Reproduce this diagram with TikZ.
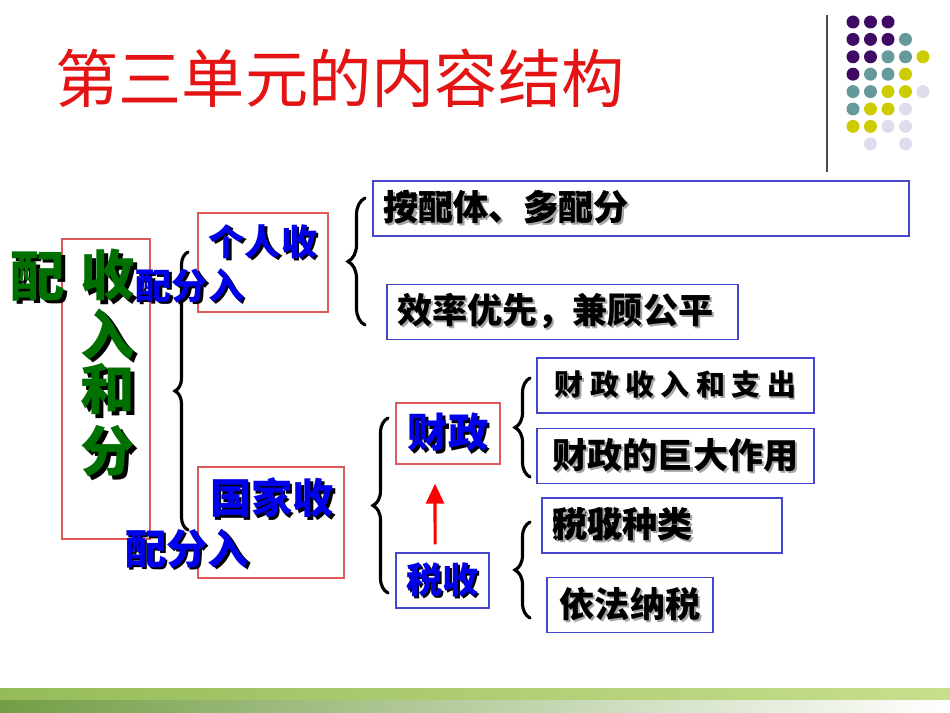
\documentclass[tikz,border=0pt]{standalone}
\usepackage{fontspec}
\setmainfont{Noto Sans CJK SC}
\usetikzlibrary{positioning,arrows.meta,decorations.pathreplacing}

\definecolor{slidered}{RGB}{228,20,20}
\definecolor{boxred}{RGB}{222,90,90}
\definecolor{boxblue}{RGB}{70,70,205}
\definecolor{textblue}{RGB}{0,0,235}
\definecolor{textgreen}{RGB}{0,112,0}
\definecolor{dotpurple}{RGB}{62,10,100}
\definecolor{dotteal}{RGB}{102,153,153}
\definecolor{dotyellow}{RGB}{204,204,0}
\definecolor{dotlilac}{RGB}{221,221,238}

% shadowed text: #1 shadow colour, #2 text
\newcommand{\shd}[2]{\makebox[0pt][l]{\kern0.06em\raisebox{-0.06em}{\color{#1}#2}}#2}
\newcommand{\fs}[1]{\fontsize{#1}{#1}\selectfont}

\begin{document}
\begin{tikzpicture}
    [x=0.02cm,y=-0.02cm,
     redbox/.style={rectangle,draw=boxred,line width=0.8pt,inner sep=0pt},
     bluebox/.style={rectangle,draw=boxblue,line width=0.8pt,inner sep=0pt},
     leaf/.style={bluebox,inner xsep=0.2cm,minimum height=1.1cm,font=\bfseries\fs{20pt},align=left},
     bigchar/.style={inner sep=0pt,text=textgreen,font=\bfseries\fs{31pt}},
     branch/.style={inner sep=0pt,text=textblue,font=\bfseries\fs{#1}},
     curly/.style={decorate,decoration={brace,amplitude=#1},line width=1.8pt,line cap=round},
     uparrow/.style={-{Triangle[length=0.4cm,width=0.36cm]},draw=red,line width=1.8pt}]

    \useasboundingbox[fill=white] (0,0) rectangle (950,713);

    % title and corner decoration
    \node[inner sep=0pt,text=slidered,font=\fs{36pt}] (title) at (340,78) {第三单元的内容结构};
    \draw[gray!60!black,line width=0.6pt] (827,15) coordinate (vtop) -- (827,172) coordinate (vbot);
    \foreach \r/\c/\col in {1/1/dotpurple,1/2/dotpurple,1/3/dotpurple,
        2/1/dotpurple,2/2/dotpurple,2/3/dotpurple,2/4/dotteal,
        3/1/dotpurple,3/2/dotpurple,3/3/dotteal,3/4/dotteal,3/5/dotyellow,
        4/1/dotpurple,4/2/dotteal,4/3/dotteal,4/4/dotyellow,
        5/1/dotteal,5/2/dotteal,5/3/dotyellow,5/4/dotyellow,5/5/dotlilac,
        6/1/dotteal,6/2/dotyellow,6/3/dotyellow,6/4/dotlilac,
        7/1/dotyellow,7/2/dotyellow,7/3/dotlilac,7/4/dotlilac,
        8/2/dotlilac,8/4/dotlilac}
      \fill[\col] (835.5+17.5*\c,4.6+17.4*\r) circle (0.13cm);

    % footer band
    \shade[left color={rgb,255:red,150;green,188;blue,90},right color={rgb,255:red,200;green,222;blue,140}]
      (0,688) rectangle (950,700);
    \shade[left color={rgb,255:red,115;green,158;blue,70},right color=white]
      (0,700) rectangle (950,713);

    % boxes
    \node[redbox,minimum width=1.76cm,minimum height=6cm] (topic) at (106,389) {};
    \node[redbox,minimum width=2.6cm,minimum height=1.98cm] (person) at (263,262.5) {};
    \node[redbox,minimum width=2.92cm,minimum height=2.22cm] (state) at (271,522.5) {};

    \node[leaf,text width=10.32cm] (principle) at (641,208.5)
      {\makebox[0pt][l]{\shd{gray!70}{搜酬体、务酬分}}\shd{gray!70}{按配体、多配分}};
    \node[leaf,text width=6.62cm] (efficiency) at (562.5,312) {\shd{gray!70}{效率优先，兼顾公平}};

    \node[redbox,minimum width=2.08cm,minimum height=1.22cm,text=textblue,font=\bfseries\fs{23pt}]
      (finance) at (448,433.5) {\shd{black}{财政}};
    \node[bluebox,minimum width=1.86cm,minimum height=1.1cm,text=textblue,font=\bfseries\fs{20.5pt}]
      (tax) at (442.5,580.5) {\shd{black}{税收}};

    \node[leaf,text width=5.14cm,align=center,font=\bfseries\fs{16.5pt}\addfontfeature{LetterSpace=22}]
      (budget) at (675.5,385.5) {\shd{gray!70}{财政收入和支出}};
    \node[leaf,text width=5.14cm,align=center,below=0.28cm of budget] (role) {\shd{gray!70}{财政的巨大作用}};
    \node[leaf,text width=4.4cm] (kinds) at (662,525.5)
      {\makebox[0pt][l]{\shd{gray!70}{赋税种类}}\shd{gray!70}{税收种类}};
    \node[leaf,text width=2.92cm,align=center] (law) at (630,605) {\shd{gray!70}{依法纳税}};

    % braces
    \draw[curly=0.26cm] (188,530) coordinate (b1s) -- (188,252) coordinate (b1e);
    \draw[curly=0.34cm] (365,325) coordinate (b2s) -- (365,198) coordinate (b2e);
    \draw[curly=0.3cm] (388,593) coordinate (b3s) -- (388,418) coordinate (b3e);
    \draw[curly=0.3cm] (530,477) coordinate (b4s) -- (530,378) coordinate (b4e);
    \draw[curly=0.3cm] (530,618) coordinate (b5s) -- (530,522) coordinate (b5e);

    \draw[uparrow] ([xshift=-4.2pt,yshift=4.5pt]tax.north) -- ([xshift=-7.4pt,yshift=-10.8pt]finance.south);

    % texts laid over the boxes
    \node[bigchar] (pei) at (38,278) {\shd{black}{配}};
    \node[bigchar] (shou) at (108,277) {\shd{black}{收}};
    \node[bigchar] (ru) at (108,336) {\shd{black}{入}};
    \node[bigchar] (he) at (108,391) {\shd{black}{和}};
    \node[bigchar] (fen) at (108,453) {\shd{black}{分}};

    \node[branch=20.5pt] (persontop) at (263,243) {\shd{black}{个人收}};
    \node[branch=20.5pt] (personbot) at (190,287) {\shd{black}{配分入}};
    \node[branch=23.5pt] (statetop) at (272,499) {\shd{black}{国家收}};
    \node[branch=23.5pt] (statebot) at (187,550) {\shd{black}{配分入}};
\end{tikzpicture}
\end{document}
